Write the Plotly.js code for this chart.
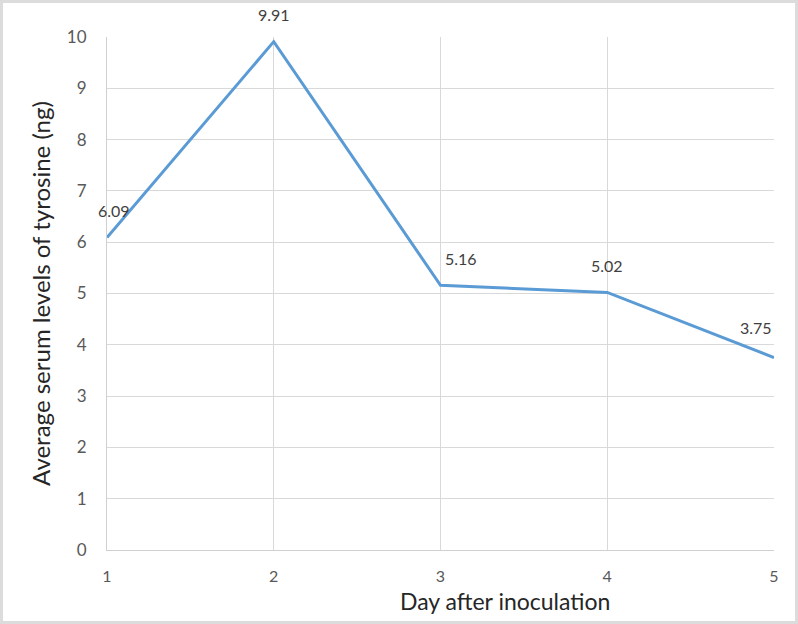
<!DOCTYPE html>
<html><head><meta charset="utf-8">
<script src="https://cdn.plot.ly/plotly-3.0.1.min.js"></script>
<style>body{margin:0;} #wrap{position:relative;width:798px;height:624px;} #frame{position:absolute;left:0;top:0;width:792px;height:618px;border:3px solid #dcdcdc;pointer-events:none;}</style>
</head><body>
<div id="wrap"><div id="chart" style="width:798px;height:624px;"></div><div id="frame"></div></div>
<script>
const days = [1, 2, 3, 4, 5];
const tyrosine = [6.09, 9.91, 5.16, 5.02, 3.75];
const labelDx = [7, 0, 20, 0, -18];
const labelDy = [27, 27, 27, 27, 30];
const xTitle = 'Day after inoculation';
const yTitle = 'Average serum levels of tyrosine (ng)';

const fontFam = 'Lato, "Liberation Sans", sans-serif';
const trace = {
  x: days, y: tyrosine, type: 'scatter', mode: 'lines',
  line: {color: '#5b9bd5', width: 3}, hoverinfo: 'x+y'
};
const annotations = days.map((d, i) => ({
  x: d, y: tyrosine[i], xref: 'x', yref: 'y', text: tyrosine[i].toFixed(2),
  showarrow: false, xshift: labelDx[i], yshift: labelDy[i],
  font: {family: fontFam, size: 16, color: '#404040'}
}));
annotations.push({
  x: 0.597, y: 0, xref: 'paper', yref: 'paper', yshift: -51,
  xanchor: 'center', yanchor: 'middle', showarrow: false, text: xTitle,
  font: {family: fontFam, size: 23, color: '#262626'}
});
const layout = {
  width: 798, height: 624,
  margin: {l: 107, r: 24, t: 37, b: 74},
  paper_bgcolor: '#ffffff', plot_bgcolor: '#ffffff',
  showlegend: false,
  font: {family: fontFam, color: '#595959'},
  xaxis: {
    range: [1, 5], tickvals: days, ticktext: days.map(String),
    showgrid: true, gridcolor: '#d9d9d9', gridwidth: 1,
    showline: true, linecolor: '#d0d0d0', linewidth: 1, mirror: false,
    zeroline: false, ticks: '', ticklabelstandoff: 12,
    tickfont: {size: 16, color: '#595959'}
  },
  yaxis: {
    range: [0, 10], dtick: 1, tick0: 0,
    showgrid: true, gridcolor: '#d9d9d9', gridwidth: 1,
    showline: true, linecolor: '#d0d0d0', linewidth: 1,
    zeroline: false, ticks: '', ticklabelstandoff: 16,
    tickfont: {size: 17, color: '#595959'},
    title: {text: yTitle, font: {size: 24, color: '#262626'}, standoff: 9}
  },
  annotations: annotations
};
Plotly.newPlot('chart', [trace], layout, {displayModeBar: false, staticPlot: true});
</script>
</body></html>
